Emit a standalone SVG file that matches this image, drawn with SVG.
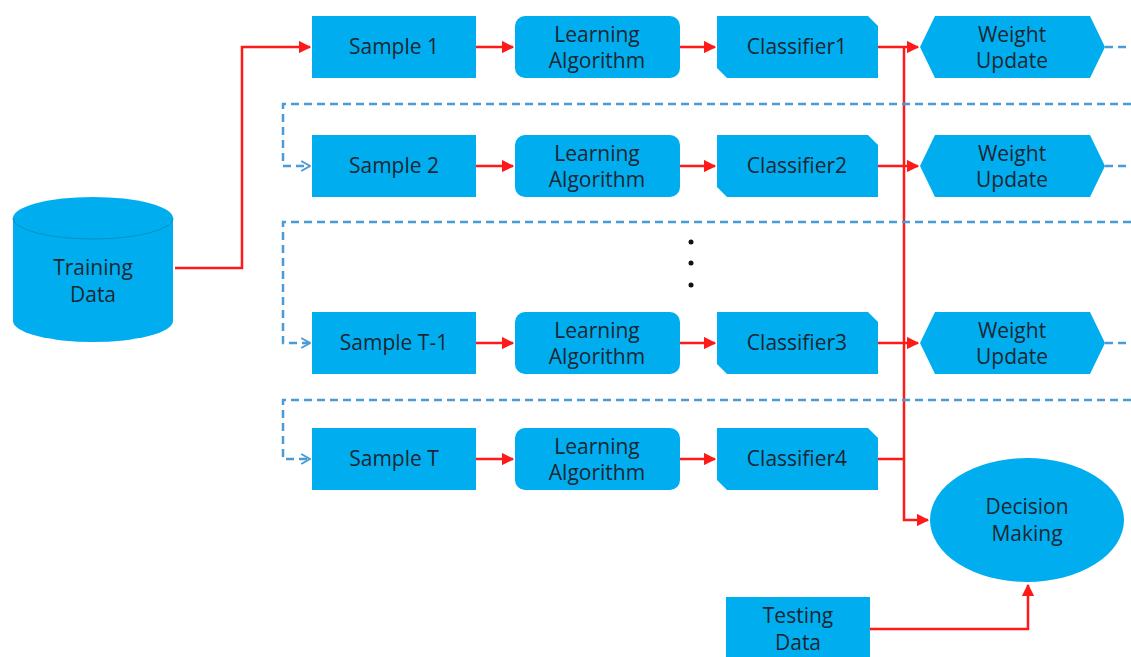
<svg xmlns="http://www.w3.org/2000/svg" width="1131" height="657" viewBox="0 0 1131 657">
<style>
.n{fill:#00AEEF;}
.t{font-family:"Open Sans","Noto Sans",sans-serif;font-size:21px;fill:#1b2733;text-anchor:middle;}
.r{fill:none;stroke:#FF1A1A;stroke-width:2.5;}
.d{fill:none;stroke:#4A9BD6;stroke-width:2.5;stroke-dasharray:8,5;}
</style>
<defs>
<marker id="ra" viewBox="0 0 10 10" refX="9" refY="5" markerWidth="5" markerHeight="5" orient="auto" markerUnits="strokeWidth"><path d="M0,0 L10,5 L0,10 z" fill="#FF1A1A"/></marker>
<marker id="ba" viewBox="0 0 10 10" refX="9" refY="5" markerWidth="5" markerHeight="5" orient="auto" markerUnits="strokeWidth"><path d="M2,1 L9,5 L2,9" fill="none" stroke="#4A9BD6" stroke-width="1.6"/></marker>
</defs>
<rect width="1131" height="657" fill="#fff"/>
<g id="connectors">
<path class="r" d="M175,268 H242 V47 H310" marker-end="url(#ra)"/>
<path class="r" d="M476,47 H513" marker-end="url(#ra)"/>
<path class="r" d="M476,166 H513" marker-end="url(#ra)"/>
<path class="r" d="M476,343 H513" marker-end="url(#ra)"/>
<path class="r" d="M476,459 H513" marker-end="url(#ra)"/>
<path class="r" d="M680,47 H715" marker-end="url(#ra)"/>
<path class="r" d="M680,166 H715" marker-end="url(#ra)"/>
<path class="r" d="M680,343 H715" marker-end="url(#ra)"/>
<path class="r" d="M680,459 H715" marker-end="url(#ra)"/>
<path class="r" d="M878,47 H918" marker-end="url(#ra)"/>
<path class="r" d="M878,166 H918" marker-end="url(#ra)"/>
<path class="r" d="M878,343 H918" marker-end="url(#ra)"/>
<path class="r" d="M878,459 H904"/>
<path class="r" d="M904,47 V520 H928" marker-end="url(#ra)"/>
<path class="r" d="M870,629 H1028 V585" marker-end="url(#ra)"/>
<path class="d" d="M1105,47 H1131"/>
<path class="d" d="M1105,166 H1131"/>
<path class="d" d="M1105,343 H1131"/>
<path class="d" d="M1131,104 H283 V166 H310" marker-end="url(#ba)"/>
<path class="d" d="M1131,222 H283 V343 H310" marker-end="url(#ba)"/>
<path class="d" d="M1131,400 H283 V459 H310" marker-end="url(#ba)"/>
</g>
<g id="training-data">
<path class="n" d="M13,218 A80,21 0 0 1 173,218 V321 A80,21 0 0 1 13,321 Z"/>
<path d="M13,218 A80,21 0 0 0 173,218" fill="none" stroke="#0a8fc4" stroke-width="1"/>
<text class="t" x="93" y="275">Training</text>
<text class="t" x="93" y="302">Data</text>
</g>
<g id="sample-1"><rect class="n" x="312" y="16" width="164" height="62"/><text class="t" x="394" y="54">Sample 1</text></g>
<g id="sample-2"><rect class="n" x="312" y="135" width="164" height="62"/><text class="t" x="394" y="173">Sample 2</text></g>
<g id="sample-t-1"><rect class="n" x="312" y="312" width="164" height="62"/><text class="t" x="394" y="350">Sample T-1</text></g>
<g id="sample-t"><rect class="n" x="312" y="428" width="164" height="62"/><text class="t" x="394" y="466">Sample T</text></g>
<g id="learning-1"><rect class="n" x="515" y="16" width="165" height="62" rx="10"/><text class="t" x="597" y="42">Learning</text><text class="t" x="597" y="68">Algorithm</text></g>
<g id="learning-2"><rect class="n" x="515" y="135" width="165" height="62" rx="10"/><text class="t" x="597" y="161">Learning</text><text class="t" x="597" y="187">Algorithm</text></g>
<g id="learning-3"><rect class="n" x="515" y="312" width="165" height="62" rx="10"/><text class="t" x="597" y="338">Learning</text><text class="t" x="597" y="364">Algorithm</text></g>
<g id="learning-4"><rect class="n" x="515" y="428" width="165" height="62" rx="10"/><text class="t" x="597" y="454">Learning</text><text class="t" x="597" y="480">Algorithm</text></g>
<g id="classifier-1"><path class="n" d="M717,16 H868 L878,26 V78 H727 L717,68 Z"/><text class="t" x="797" y="54">Classifier1</text></g>
<g id="classifier-2"><path class="n" d="M717,135 H868 L878,145 V197 H727 L717,187 Z"/><text class="t" x="797" y="173">Classifier2</text></g>
<g id="classifier-3"><path class="n" d="M717,312 H868 L878,322 V374 H727 L717,364 Z"/><text class="t" x="797" y="350">Classifier3</text></g>
<g id="classifier-4"><path class="n" d="M717,428 H868 L878,438 V490 H727 L717,480 Z"/><text class="t" x="797" y="466">Classifier4</text></g>
<g id="weight-1"><path class="n" d="M920,47 L935,16 H1090 L1105,47 L1090,78 H935 Z"/><text class="t" x="1012" y="42">Weight</text><text class="t" x="1012" y="68">Update</text></g>
<g id="weight-2"><path class="n" d="M920,166 L935,135 H1090 L1105,166 L1090,197 H935 Z"/><text class="t" x="1012" y="161">Weight</text><text class="t" x="1012" y="187">Update</text></g>
<g id="weight-3"><path class="n" d="M920,343 L935,312 H1090 L1105,343 L1090,374 H935 Z"/><text class="t" x="1012" y="338">Weight</text><text class="t" x="1012" y="364">Update</text></g>
<g id="dots"><circle cx="691" cy="242" r="2.5" fill="#111"/><circle cx="691" cy="263" r="2.5" fill="#111"/><circle cx="691" cy="285" r="2.5" fill="#111"/></g>
<g id="decision-making"><ellipse class="n" cx="1027" cy="520" rx="97" ry="62"/><text class="t" x="1027" y="514">Decision</text><text class="t" x="1027" y="541">Making</text></g>
<g id="testing-data"><rect class="n" x="726" y="597" width="144" height="62"/><text class="t" x="798" y="623">Testing</text><text class="t" x="798" y="650">Data</text></g>
</svg>
